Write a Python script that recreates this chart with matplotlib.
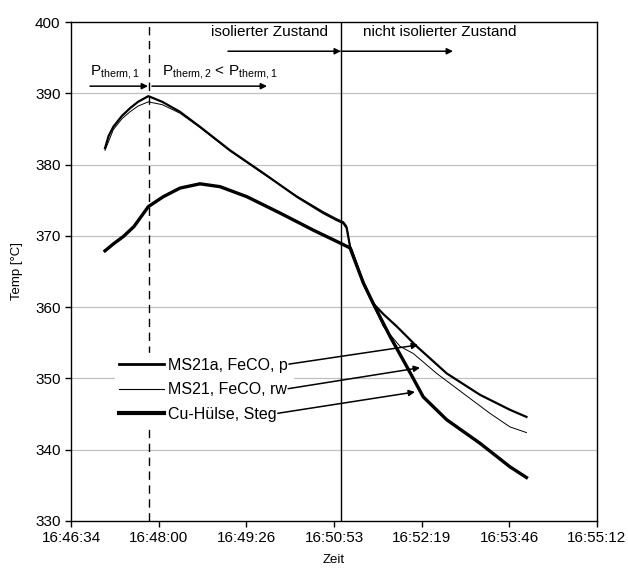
import numpy as np
import matplotlib.pyplot as plt

plt.rcParams['font.family'] = ['Liberation Sans', 'DejaVu Sans']
plt.rcParams['mathtext.fontset'] = 'custom'
plt.rcParams['mathtext.rm'] = 'Liberation Sans'
plt.rcParams['mathtext.it'] = 'Liberation Sans'

# seconds after 16:46:34
tick_labels = ['16:46:34', '16:48:00', '16:49:26', '16:50:53', '16:52:19', '16:53:46', '16:55:12']
tick_pos = np.arange(7) * 86.4

t_a = [33.5, 37, 41.7, 50, 58.1, 66, 76.2, 90, 107.4, 127.1, 156.7, 189.5, 222.4, 248.6,
       262, 268.4, 271.7, 275, 276.6, 288.1, 297.9, 308, 321, 340.7, 370.3, 403.1, 432.6, 448.9]
v_a = [382.3, 384.0, 385.3, 386.8, 387.9, 388.8, 389.6, 388.8, 387.4, 385.3, 382.0, 378.8, 375.5, 373.2,
       372.2, 371.8, 371.1, 368.5, 368.0, 363.4, 360.5, 359.0, 357.3, 354.5, 350.7, 347.7, 345.6, 344.6]

t_rw = [33.5, 41.7, 50, 58.1, 66, 76.2, 90, 107.4, 127.1, 156.7, 189.5, 222.4, 248.6, 262,
        268.4, 271.7, 275, 276.6, 288.1, 297.9, 307.8, 324.2, 337.3, 360.4, 386.6, 412.9, 432.6, 448.9]
v_rw = [382.0, 384.9, 386.4, 387.4, 388.2, 388.8, 388.4, 387.2, 385.2, 381.9, 378.7, 375.6, 373.4, 372.4,
        372.0, 371.4, 368.6, 368.0, 363.2, 360.3, 357.3, 354.5, 353.5, 350.7, 347.9, 345.1, 343.2, 342.4]

t_cu = [33.5, 42, 51.5, 62, 76.2, 91, 107.4, 127.1, 146.8, 173.2, 206, 238.8, 265.1, 275,
        288.1, 297.9, 314.4, 330.8, 347.2, 370.3, 403.1, 432.6, 448.9]
v_cu = [367.9, 368.9, 369.9, 371.3, 374.1, 375.5, 376.7, 377.3, 376.9, 375.5, 373.2, 370.8, 369.0, 368.3,
        363.4, 360.5, 355.9, 351.7, 347.4, 344.2, 340.9, 337.6, 336.1]

t_dash = 76.4
t_solid = 266

fig = plt.figure(figsize=(6.28, 5.70), dpi=100)
ax = fig.add_axes([0.1131, 0.086, 0.8375, 0.8754])

ax.set_xlim(0, 518.4)
ax.set_ylim(330, 400)
ax.set_xticks(tick_pos)
ax.set_xticklabels(tick_labels)
ax.set_yticks(np.arange(330, 401, 10))
ax.tick_params(labelsize=11, direction='out', length=4, width=1, color='black')
for y in range(340, 400, 10):
    ax.axhline(y, color='#c0c0c0', lw=0.9, zorder=0)
for s in ax.spines.values():
    s.set_linewidth(1)

ax.axvline(t_dash, color='black', lw=1, ls=(0, (6, 4)), zorder=1)
ax.axvline(t_solid, color='black', lw=1, zorder=1)

l1, = ax.plot(t_a, v_a, color='black', lw=1.6, label='MS21a, FeCO, p', zorder=3)
l2, = ax.plot(t_rw, v_rw, color='black', lw=0.7, label='MS21, FeCO, rw', zorder=4)
l3, = ax.plot(t_cu, v_cu, color='black', lw=2.4, label='Cu-Hülse, Steg', zorder=3)

ax.set_xlabel('Zeit', fontsize=9.5, labelpad=6)
ax.set_ylabel('Temp [°C]', fontsize=9.5, labelpad=9)

arr = dict(arrowstyle='-|>', color='black', lw=1.1, mutation_scale=9, shrinkA=0, shrinkB=0)
ax.annotate('', xy=(266, 395.9), xytext=(154.7, 395.9), arrowprops=arr)
ax.annotate('', xy=(376.5, 395.9), xytext=(266, 395.9), arrowprops=arr)
ax.annotate('', xy=(75.9, 391.0), xytext=(18.7, 391.0), arrowprops=arr)
ax.annotate('', xy=(193.2, 391.0), xytext=(79.8, 391.0), arrowprops=arr)
ax.text(253, 398.6, 'isolierter Zustand', fontsize=11, ha='right', va='center')
ax.text(287.8, 398.6, 'nicht isolierter Zustand', fontsize=11, ha='left', va='center')
ax.text(18.7, 393.0, r'P$_{\mathrm{therm,1}}$', fontsize=11, ha='left', va='center')
ax.text(89.7, 393.0, r'P$_{\mathrm{therm,2}}$ < P$_{\mathrm{therm,1}}$', fontsize=11, ha='left', va='center')

leg = ax.legend(handles=[l1, l2, l3], loc='upper left', bbox_to_anchor=(0.083, 0.337),
                fontsize=11.5, frameon=True, fancybox=False, edgecolor='white', facecolor='white',
                framealpha=1, handlelength=2.8, handletextpad=0.25, labelspacing=0.6,
                borderpad=0.3, borderaxespad=0)
leg.set_zorder(2)
leg.get_lines()[0].set_linewidth(2.0)
leg.get_lines()[1].set_linewidth(0.8)
leg.get_lines()[2].set_linewidth(3.0)

fig.canvas.draw()
targets = [(342, 354.7), (344, 351.5), (339, 348.1)]
inv = ax.transData.inverted()
for txt, tgt in zip(leg.get_texts(), targets):
    bb = txt.get_window_extent()
    x0, y0 = inv.transform((bb.x1 + 1, (bb.y0 + bb.y1) / 2 + 1))
    ax.annotate('', xy=tgt, xytext=(x0, y0), arrowprops=arr, zorder=5)

fig.savefig('out.png', dpi=100)
